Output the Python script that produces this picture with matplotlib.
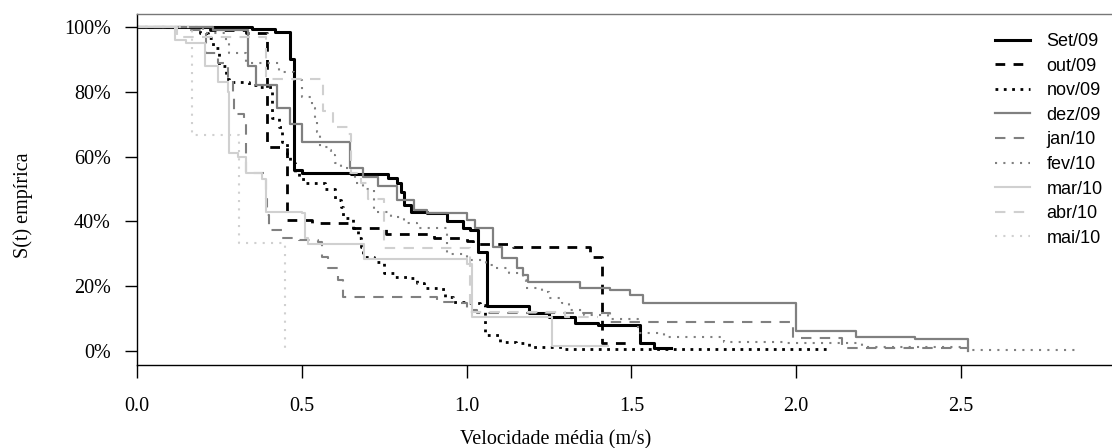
import matplotlib
matplotlib.use("Agg")
import matplotlib.pyplot as plt
from matplotlib.ticker import PercentFormatter

# Empirical survival curves, S(t) in %, step values start at each x
set09_x = [0, 0.35, 0.42, 0.465, 0.475, 0.50, 0.65, 0.76, 0.79, 0.80, 0.81, 0.83, 0.88, 0.94, 0.99, 1.01, 1.035, 1.062, 1.19, 1.25, 1.33, 1.40, 1.526, 1.57, 1.62]
set09_s = [100, 99.3, 98.5, 90, 56, 55, 54.5, 53.5, 52, 49, 45, 43, 42.5, 40, 38, 37.3, 30.5, 14, 11.7, 10.5, 8.6, 8, 2.5, 1, 1]

out09_x = [0, 0.22, 0.33, 0.395, 0.455, 0.53, 0.655, 0.755, 0.90, 1.0, 1.02, 1.14, 1.375, 1.41, 1.50]
out09_s = [100, 99, 98, 63, 40.5, 39.5, 38, 36, 35, 34, 33, 32, 29, 2.5, 2.5]

nov09_x = [0, 0.19, 0.215, 0.23, 0.25, 0.27, 0.28, 0.34, 0.365, 0.41, 0.43, 0.44, 0.455, 0.465, 0.48, 0.49, 0.51, 0.57, 0.60, 0.62, 0.625, 0.655, 0.67, 0.68, 0.685, 0.72, 0.75, 0.78, 0.82, 0.85, 0.87, 0.92, 0.935, 0.96, 1.0, 1.04, 1.055, 1.057, 1.10, 1.15, 1.19, 1.30, 2.10]
nov09_s = [100, 98, 96.6, 93.5, 88, 84, 83, 82, 81.5, 72, 69, 64.5, 60.5, 58, 55, 53, 52, 50, 46.6, 44.4, 41, 38, 35, 32, 29, 27.5, 24, 23, 22.5, 21, 19.5, 19, 16.7, 15, 14.8, 14.2, 11.7, 5, 2.8, 2.5, 1.3, 0.6, 0.6]

dez09_x = [0, 0.23, 0.337, 0.36, 0.425, 0.465, 0.50, 0.646, 0.685, 0.73, 0.79, 0.84, 0.88, 1.0, 1.025, 1.08, 1.107, 1.153, 1.17, 1.186, 1.344, 1.435, 1.496, 1.535, 2.0, 2.18, 2.36, 2.52]
dez09_s = [100, 99, 88, 82, 75, 70, 64.5, 56.5, 53.7, 51, 46.6, 43.5, 42.6, 40.4, 38, 32, 28.7, 25.6, 23.5, 21.3, 19.4, 18.8, 17.3, 14.8, 6.2, 4.3, 3.7, 0]

jan10_x = [0, 0.16, 0.21, 0.245, 0.27, 0.275, 0.29, 0.295, 0.325, 0.33, 0.39, 0.395, 0.40, 0.44, 0.49, 0.55, 0.56, 0.58, 0.61, 0.625, 0.91, 0.96, 1.0, 1.03, 1.435, 1.99, 2.14, 2.52]
jan10_s = [100, 99, 92, 89, 87.7, 84.5, 79, 73, 72, 55, 47, 42, 37.3, 35, 34.2, 33.6, 29, 25.6, 22, 16.7, 15, 14.8, 12.6, 11.7, 9, 4, 1, 1]

fev10_x = [0, 0.2, 0.27, 0.28, 0.33, 0.43, 0.475, 0.50, 0.53, 0.54, 0.545, 0.555, 0.585, 0.59, 0.60, 0.62, 0.645, 0.66, 0.685, 0.72, 0.77, 0.81, 0.85, 0.94, 1.0, 1.06, 1.09, 1.13, 1.17, 1.18, 1.23, 1.25, 1.29, 1.31, 1.355, 1.43, 1.52, 1.60, 1.78, 1.96, 2.2, 2.52, 2.86]
fev10_s = [100, 98, 95, 92, 89, 86, 83.6, 78.4, 75, 70.7, 67.6, 63, 62, 60.5, 58, 56.5, 55, 52, 50, 43, 41.4, 39.5, 38, 30, 28, 26.5, 25.6, 24, 22, 19.4, 18.2, 16.4, 14.8, 12.7, 11, 10, 5.6, 4.3, 2.8, 2.5, 1.2, 0.4, 0.4]

mar10_x = [0, 0.115, 0.15, 0.205, 0.245, 0.275, 0.28, 0.305, 0.33, 0.38, 0.39, 0.50, 0.51, 0.52, 0.69, 1.0, 1.015, 1.26, 1.43]
mar10_s = [100, 96, 95, 88, 83, 80, 61, 60, 55, 53, 43, 42.6, 35, 33, 28.5, 27, 10.5, 1.5, 1.5]

abr10_x = [0, 0.12, 0.39, 0.565, 0.595, 0.64, 0.65, 0.68, 0.70, 0.75, 1.01, 1.30, 1.40]
abr10_s = [100, 97, 84, 74, 69, 67, 55, 52, 47, 31.8, 12, 10.5, 10.5]

mai10_x = [0, 0.167, 0.31, 0.45]
mai10_s = [100, 66.7, 33.3, 0]

labels = ["Set/09", "out/09", "nov/09", "dez/09", "jan/10", "fev/10", "mar/10", "abr/10", "mai/10"]
colors = ["#000000", "#000000", "#000000", "#808080", "#808080", "#808080", "#d0d0d0", "#d0d0d0", "#d0d0d0"]
styles = ["-", (0, (3.5, 3)), (0, (1, 2)), "-", (0, (5, 4)), (0, (1, 3)), "-", (0, (5, 4)), (0, (1, 3))]
widths = [2.2, 2.0, 2.0, 1.6, 1.5, 1.5, 1.5, 1.5, 1.5]

series = [(set09_x, set09_s), (out09_x, out09_s), (nov09_x, nov09_s),
          (dez09_x, dez09_s), (jan10_x, jan10_s), (fev10_x, fev10_s),
          (mar10_x, mar10_s), (abr10_x, abr10_s), (mai10_x, mai10_s)]

fig = plt.figure(figsize=(11.12, 4.48), dpi=100)
ax = fig.add_axes([137 / 1112, 83 / 448, 1 - 137 / 1112, 351 / 448])

for (xs, ss), lab, c, ls, lw in zip(series, labels, colors, styles, widths):
    ax.step(xs, ss, where="post", color=c, linestyle=ls, linewidth=lw, label=lab)

ax.set_xlim(0, 2.958)
ax.set_ylim(-4.3, 104.0)
ax.set_xticks([0.0, 0.5, 1.0, 1.5, 2.0, 2.5])
ax.set_xticklabels(["0.0", "0.5", "1.0", "1.5", "2.0", "2.5"])
ax.set_yticks([0, 20, 40, 60, 80, 100])
ax.yaxis.set_major_formatter(PercentFormatter(100, decimals=0))
ax.tick_params(length=9, width=1, labelsize=14.5)
ax.tick_params(axis="x", pad=14)
ax.tick_params(axis="y", pad=10)
for lab in ax.get_xticklabels() + ax.get_yticklabels():
    lab.set_family("Liberation Serif")
ax.spines["right"].set_visible(False)
for sp in ["left", "top", "bottom"]:
    ax.spines[sp].set_linewidth(1.0)
ax.spines["top"].set_color("#777777")

ax.set_xlabel("Velocidade média (m/s)", family="Liberation Serif", fontsize=14.5)
ax.set_ylabel("S(t) empírica", family="Liberation Serif", fontsize=14.5)
ax.xaxis.set_label_coords((556 - 137) / 975, -(430 - 365) / 351)
ax.yaxis.set_label_coords((33 - 137) / 975, (365 - 205) / 351)

leg = ax.legend(loc="upper left", bbox_to_anchor=(995 / 1112, 1 - 33 / 448),
                bbox_transform=fig.transFigure, frameon=False,
                prop={"family": "Liberation Sans", "size": 13},
                handlelength=1.95, handletextpad=0.9, labelspacing=0.42,
                borderpad=0, borderaxespad=0)

fig.savefig("out.png", dpi=100)
